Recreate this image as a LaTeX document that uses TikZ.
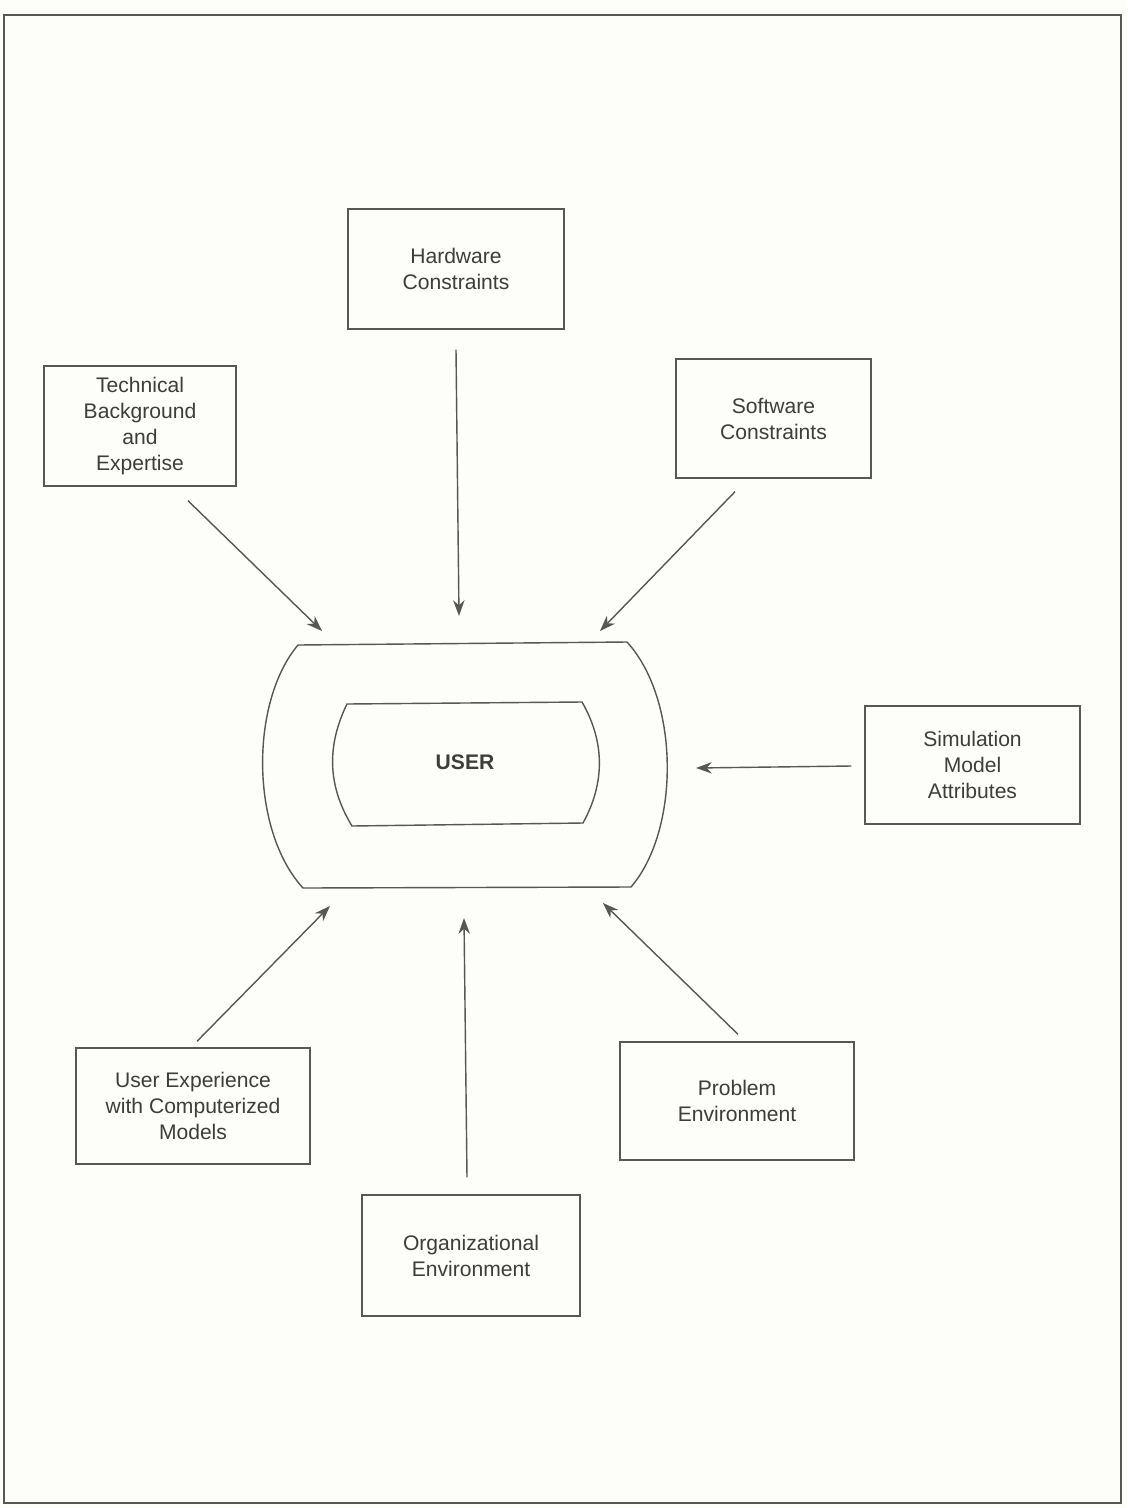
\documentclass[tikz,border=0pt]{standalone}
\usepackage{fontspec}
\setmainfont{Liberation Sans}
\usetikzlibrary{arrows.meta,calc}
\definecolor{ink}{RGB}{85,88,85}
\definecolor{txt}{RGB}{60,62,60}
\definecolor{paper}{RGB}{253,253,249}
\tikzset{
  box/.style={draw=ink, line width=0.8pt, align=center, text=txt,
    font=\fontsize{12}{14.8}\selectfont, inner sep=0pt},
  arr/.style={draw=ink, line width=0.8pt, -{Stealth[length=9pt,width=6.5pt]}},
  shp/.style={draw=ink, line width=0.8pt}
}
\begin{document}
\begin{tikzpicture}[x=0.02cm,y=-0.02cm]
\useasboundingbox (0,0) rectangle (1127,1508);
\fill[paper] (0,0) rectangle (1127,1508);
\draw[ink, line width=1.1pt] (4,15) rectangle (1121,1503);

% boxes
\node[box, minimum width=4.32cm, minimum height=2.40cm] (hw) at (456,269) {Hardware\\Constraints};
\node[box, minimum width=3.84cm, minimum height=2.40cm] (tech) at (140,426) {Technical\\Background\\and\\Expertise};
\node[box, minimum width=3.90cm, minimum height=2.38cm] (sw) at (773.5,418.5) {Software\\Constraints};
\node[box, minimum width=4.30cm, minimum height=2.36cm] (sim) at (972.5,765) {Simulation\\Model\\Attributes};
\node[box, minimum width=4.68cm, minimum height=2.32cm] (ue) at (193,1106) {User Experience\\with Computerized\\Models};
\node[box, minimum width=4.36cm, minimum height=2.42cm] (org) at (471,1255.5) {Organizational\\Environment};
\node[box, minimum width=4.68cm, minimum height=2.36cm] (pe) at (737,1101) {Problem\\Environment};

% USER shape
\draw[shp] (298,645) -- (627,642) .. controls (680,700) and (680,830) .. (631,887)
  -- (303,888) .. controls (250,830) and (250,702) .. cycle;
\draw[shp] (347,704) -- (582,702) .. controls (605,742) and (605,783) .. (583,823)
  -- (352,826) .. controls (327,785) and (327,745) .. cycle;
\node[text=txt, font=\fontsize{12}{14.8}\selectfont\bfseries] (user) at (465,762) {USER};

% arrow tips
\coordinate (tHW) at (459,616);
\coordinate (tTE) at (322,631);
\coordinate (tSW) at (600,631);
\coordinate (tSI) at (696,768);
\coordinate (tUE) at (330,906);
\coordinate (tOR) at (464,918);
\coordinate (tPE) at (603,903);

\draw[arr] ($(hw.south)+(0,20)$) -- (tHW);
\draw[arr] ($(tech.south)+(48,14)$) -- (tTE);
\draw[arr] ($(sw.south)+(-38.5,13)$) -- (tSW);
\draw[arr] ($(sim.west)+(-13,1)$) -- (tSI);
\draw[arr] ($(ue.north)+(4,-6)$) -- (tUE);
\draw[arr] ($(org.north)+(-4,-17)$) -- (tOR);
\draw[arr] ($(pe.north)+(1,-7)$) -- (tPE);
\end{tikzpicture}
\end{document}
